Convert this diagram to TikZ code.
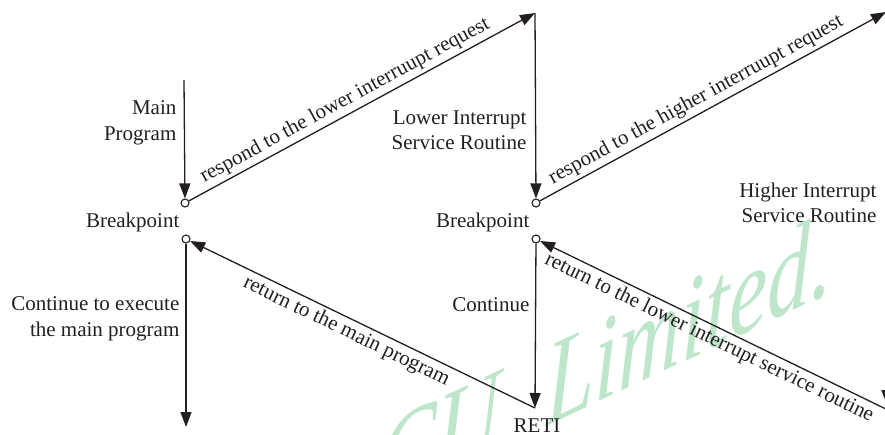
\documentclass[tikz,border=0pt]{standalone}
\usepackage{fontspec}
\setmainfont{Liberation Serif}
\usetikzlibrary{arrows.meta}
\definecolor{wmgreen}{RGB}{190,230,202}
\definecolor{ink}{RGB}{35,31,32}

\begin{document}
\begin{tikzpicture}[x=1pt,y=-1pt,>={Triangle[length=15pt,width=11pt]},line width=1.3pt,color=ink,font=\fontsize{21}{25.5}\selectfont]
\tikzstyle{bp}=[circle,draw,fill=white,inner sep=0pt,minimum size=8pt,line width=1.1pt]
\tikzstyle{t}=[inner sep=0pt,align=right]
\tikzstyle{s}=[sloped]
\useasboundingbox (0,0) rectangle (885,434);
\node[wmgreen,font=\fontsize{120}{120}\selectfont\itshape,yslant=0.47,xscale=0.72,inner sep=0pt,anchor=base east] (wm) at (833,292) {CU\hspace{0.3em} Limited.};
\node[bp] (bp1) at (185,203) {};
\node[bp] (bp2) at (536,203) {};
\node[bp] (bp3) at (186,239) {};
\node[bp] (bp4) at (536,239) {};
\coordinate (mtop) at (184,80);
\coordinate (ltop) at (535,13);
\coordinate (htop) at (886,12);
\coordinate (hbot) at (887,405);
\coordinate (mbot) at (186,427);
\coordinate (reti) at (535,408);
\coordinate (hret) at (890,411);
\node[t,anchor=east] (mp) at (177,123) {Main\\Program};
\node[t,anchor=base east] (b1) at (180,227) {Breakpoint};
\node[t,anchor=base east] (b2) at (530,227) {Breakpoint};
\node[t,anchor=east] (lisr) at (527,130) {Lower Interrupt\\Service Routine};
\node[t,anchor=east] (hisr) at (877,203) {Higher Interrupt\\Service Routine};
\node[t,anchor=east] (cmain) at (180,319) {Continue to execute\\the main program};
\node[t,anchor=base east] (cont) at (530,311) {Continue};
\node[t,anchor=base] (rt) at (537,432) {RETI};
\draw[->] (mtop) -- (bp1);
\draw[->] (bp1) -- node[s,above,pos=0.47]{respond to the lower interruupt request} (ltop);
\draw[->] (ltop) -- (bp2);
\draw[->] (bp2) -- node[s,above,pos=0.47]{respond to the higher interruupt request} (htop);
\draw[->] (htop) -- (hbot);
\draw[->] (bp3) -- (mbot);
\draw[->] (reti) -- node[s,below,pos=0.53]{return to the main program} (bp3);
\draw[->] (bp4) -- (reti);
\draw[->] (hret) -- node[s,below,pos=0.5]{return to the lower interrupt service routine} (bp4);
\end{tikzpicture}
\end{document}
